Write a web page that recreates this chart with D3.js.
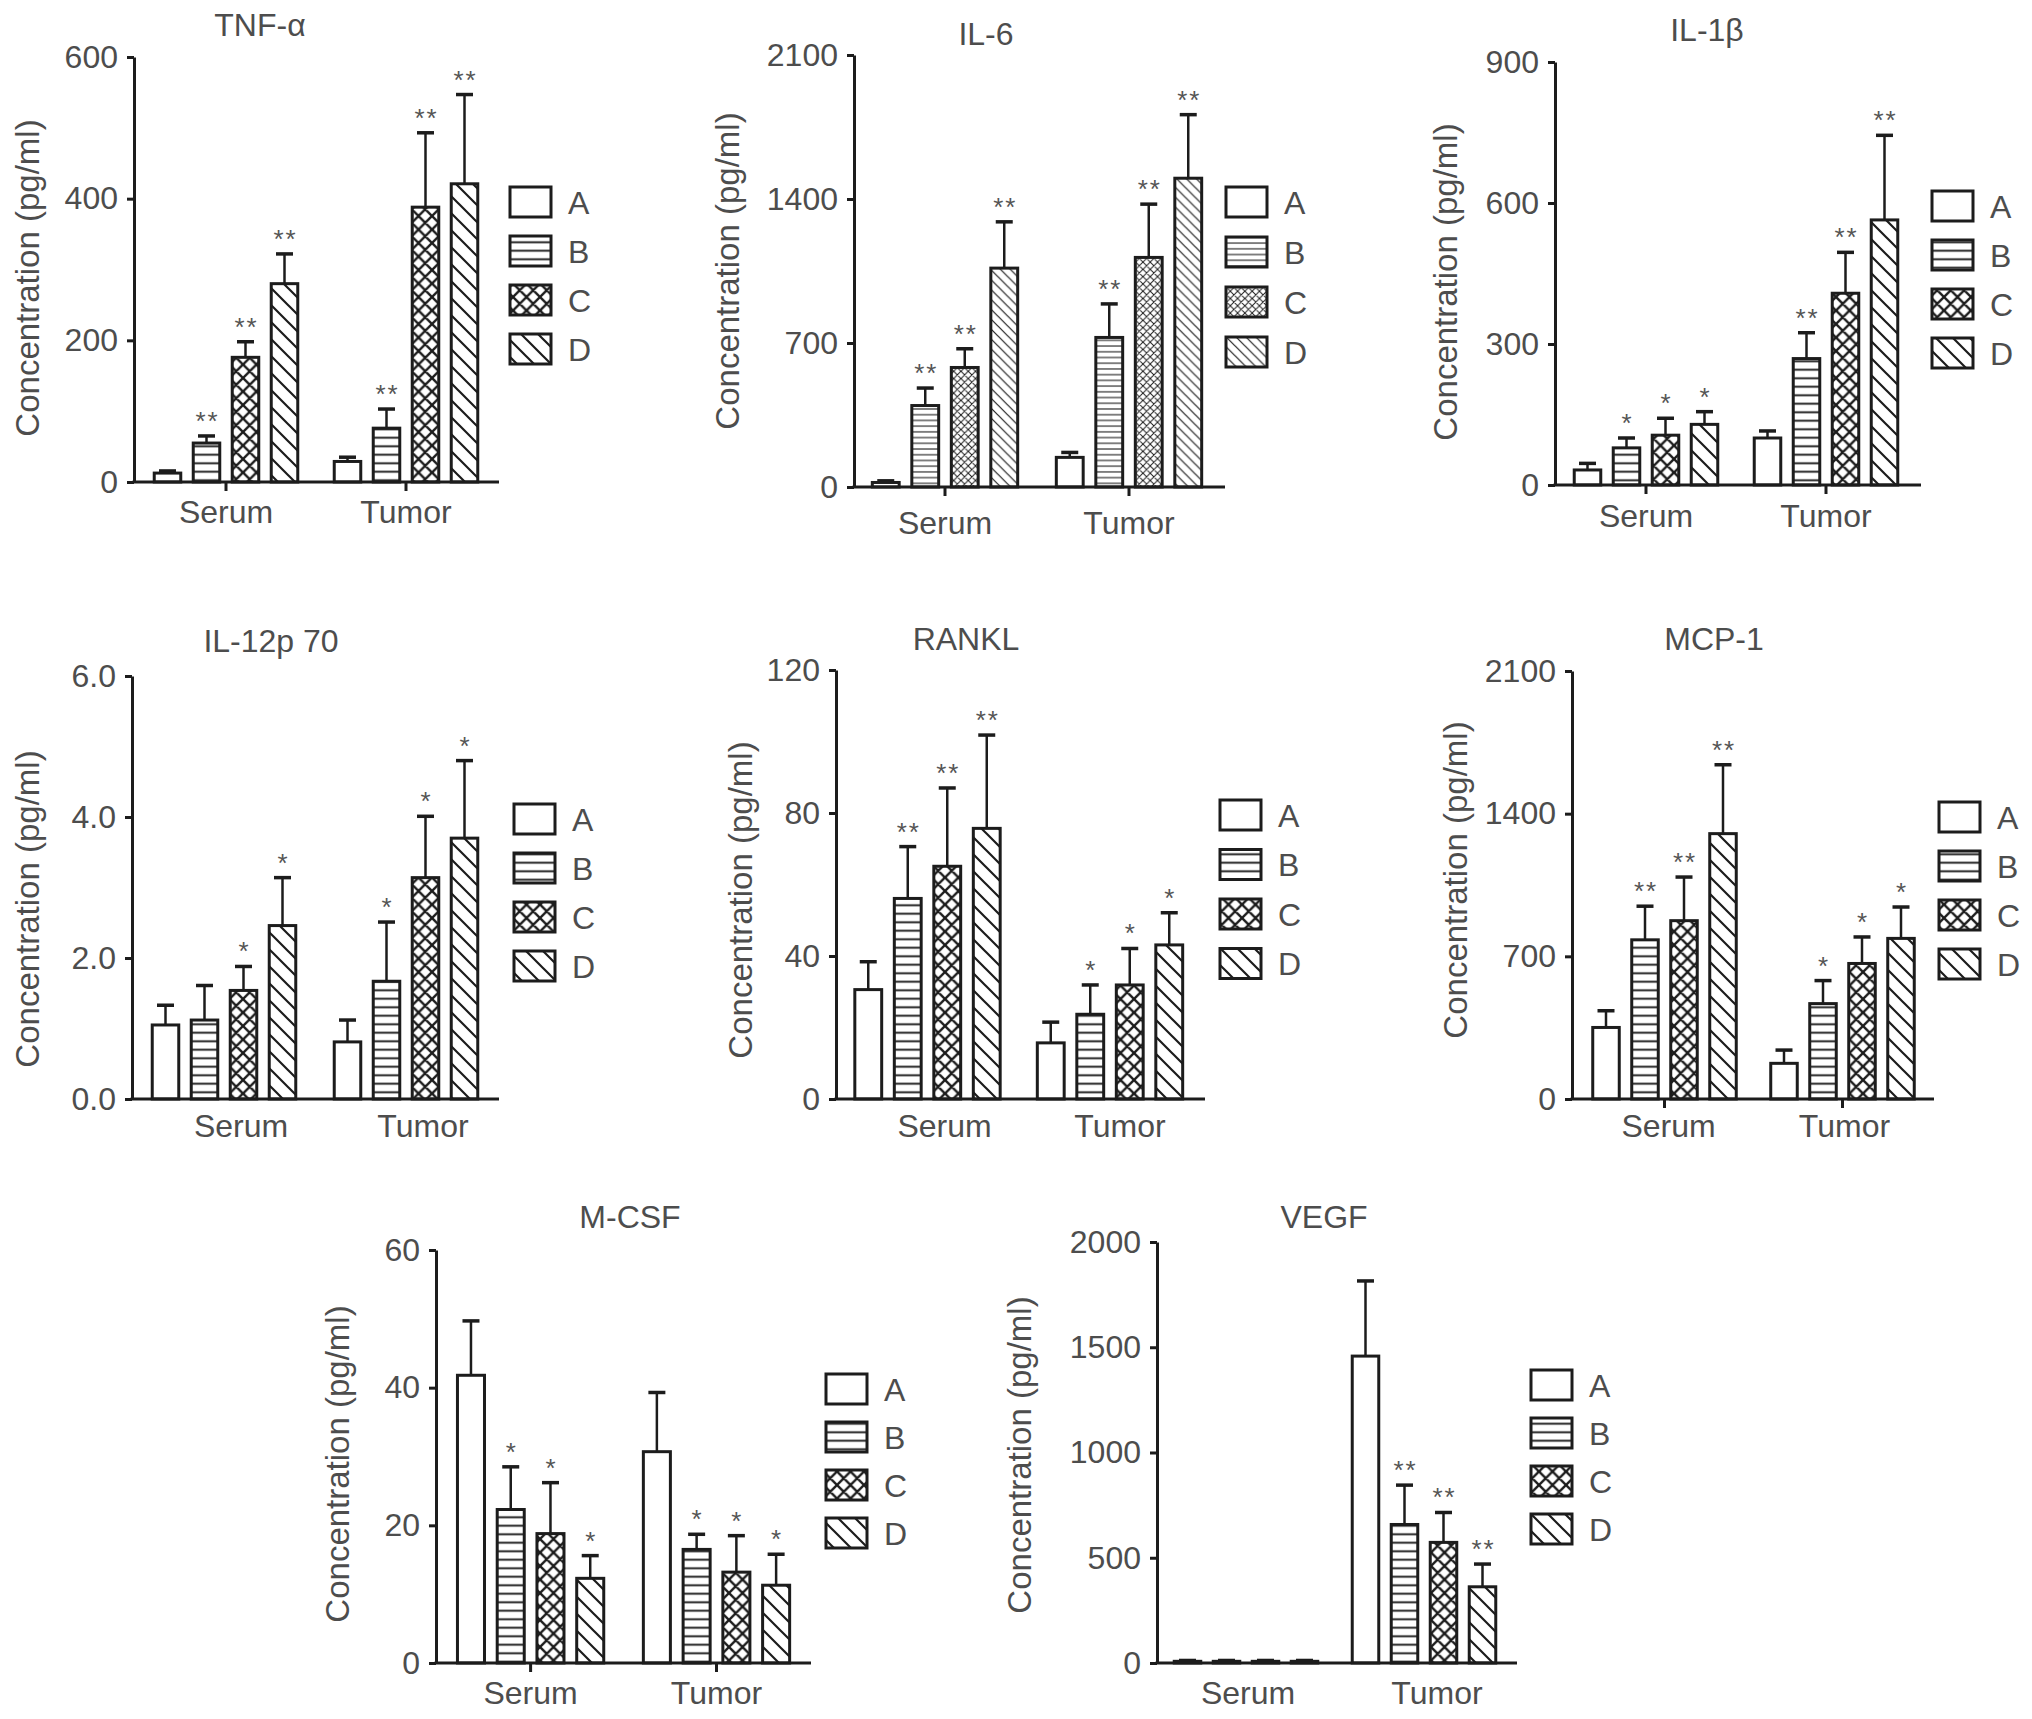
<!DOCTYPE html>
<html>
<head>
<meta charset="utf-8">
<script src="https://cdn.jsdelivr.net/npm/d3@7"></script>
<style>
body { margin: 0; background: #fff; }
text { font-family: "Liberation Sans", Arial, sans-serif; fill: #4d4d4d; }
</style>
</head>
<body>
<div id="chart"></div>
<script>
var groups = ["Serum", "Tumor"];
var series = ["A", "B", "C", "D"];
var titles = ["TNF-\u03b1", "IL-6", "IL-1\u03b2", "IL-12p 70", "RANKL", "MCP-1", "M-CSF", "VEGF"];
var yTickValues = [[0, 200, 400, 600], [0, 700, 1400, 2100], [0, 300, 600, 900], [0, 2, 4, 6],
                   [0, 40, 80, 120], [0, 700, 1400, 2100], [0, 20, 40, 60], [0, 500, 1000, 1500, 2000]];
var yFormats = ["d", "d", "d", ".1f", "d", "d", "d", "d"];

// mean values, [serum, tumor]
var tnfMean   = [[12.6, 55, 176, 280], [29, 76, 388, 421]];
var il6Mean   = [[22, 396, 581, 1064], [144, 727, 1116, 1501]];
var il1bMean  = [[32, 79, 106, 129], [100, 269, 408, 564]];
var il12Mean  = [[1.05, 1.12, 1.54, 2.46], [0.81, 1.67, 3.14, 3.70]];
var ranklMean = [[30.6, 56.1, 65.1, 75.7], [15.7, 23.7, 31.9, 43.1]];
var mcp1Mean  = [[351, 781, 875, 1302], [175, 468, 665, 788]];
var mcsfMean  = [[41.8, 22.3, 18.8, 12.3], [30.7, 16.5, 13.2, 11.3]];
var vegfMean  = [[8, 8, 8, 8], [1458, 658, 573, 362]];

// error bar lengths (upper only)
var tnfErr   = [[3, 10, 22, 42], [6, 27, 105, 126]];
var il6Err   = [[8, 85, 91, 225], [24, 163, 259, 309]];
var il1bErr  = [[14, 21, 36, 27], [15, 55, 87, 180]];
var il12Err  = [[0.28, 0.49, 0.34, 0.68], [0.31, 0.84, 0.87, 1.10]];
var ranklErr = [[7.8, 14.5, 21.9, 26.1], [5.8, 8.2, 10.2, 9.0]];
var mcp1Err  = [[82, 165, 214, 338], [65, 113, 130, 154]];
var mcsfErr  = [[7.9, 6.2, 7.4, 3.3], [8.6, 2.2, 5.3, 4.5]];
var vegfErr  = [[4, 4, 4, 4], [357, 187, 142, 108]];

// significance marks
var tnfStars   = [["", "**", "**", "**"], ["", "**", "**", "**"]];
var il6Stars   = [["", "**", "**", "**"], ["", "**", "**", "**"]];
var il1bStars  = [["", "*", "*", "*"], ["", "**", "**", "**"]];
var il12Stars  = [["", "", "*", "*"], ["", "*", "*", "*"]];
var ranklStars = [["", "**", "**", "**"], ["", "*", "*", "*"]];
var mcp1Stars  = [["", "**", "**", "**"], ["", "*", "*", "*"]];
var mcsfStars  = [["", "*", "*", "*"], ["", "*", "*", "*"]];
var vegfStars  = [["", "", "", ""], ["", "**", "**", "**"]];

var means = [tnfMean, il6Mean, il1bMean, il12Mean, ranklMean, mcp1Mean, mcsfMean, vegfMean];
var errs = [tnfErr, il6Err, il1bErr, il12Err, ranklErr, mcp1Err, mcsfErr, vegfErr];
var stars = [tnfStars, il6Stars, il1bStars, il12Stars, ranklStars, mcp1Stars, mcsfStars, vegfStars];

// panel placement
var layout = [
  {x0: 134, x1: 499, yTop: 57, y0: 482, tx: 260, ty: 36, lx: 28, ly: 278, gx: 510, gy: 202, gs: 49, cy: 523, off: [92, 272], shift: [0, 0], ticks: true, f: 1, gw: 156},
  {x0: 854, x1: 1225, yTop: 55, y0: 487, tx: 986, ty: 45, lx: 728, ly: 271, gx: 1226, gy: 202, gs: 50, cy: 534, off: [91, 275], shift: [0, 0], ticks: true, f: 0.52, gw: 158},
  {x0: 1555, x1: 1921, yTop: 62, y0: 485, tx: 1707, ty: 41, lx: 1446, ly: 282, gx: 1932, gy: 206, gs: 49, cy: 527, off: [91, 271], shift: [0, 0], ticks: true, f: 1, gw: 156},
  {x0: 132, x1: 499, yTop: 676, y0: 1099, tx: 271, ty: 652, lx: 28, ly: 909, gx: 514, gy: 819, gs: 49, cy: 1137, off: [92, 274], shift: [17, 17], ticks: false, f: 1, gw: 156},
  {x0: 836, x1: 1205, yTop: 670, y0: 1099, tx: 966, ty: 650, lx: 741, ly: 900, gx: 1220, gy: 815, gs: 49.5, cy: 1137, off: [91.5, 274], shift: [17, 10], ticks: false, f: 1, gw: 158},
  {x0: 1572, x1: 1934, yTop: 671, y0: 1099, tx: 1714, ty: 650, lx: 1456, ly: 880, gx: 1939, gy: 817, gs: 49, cy: 1137, off: [92.5, 270.5], shift: [4, 2], ticks: true, f: 1, gw: 156},
  {x0: 436, x1: 811, yTop: 1250, y0: 1663, tx: 630, ty: 1228, lx: 338, ly: 1464, gx: 826, gy: 1389, gs: 48, cy: 1704, off: [94.6, 280.5], shift: [0, 0], ticks: true, f: 1, gw: 159},
  {x0: 1157, x1: 1517, yTop: 1242, y0: 1663, tx: 1324, ty: 1228, lx: 1020, ly: 1455, gx: 1531, gy: 1385, gs: 48, cy: 1704, off: [89, 267], shift: [2, 13], ticks: false, f: 1, gw: 156}
];

var ink = "#1c1c1c";

var svg = d3.select("#chart")
    .append("svg")
    .attr("width", 2032)
    .attr("height", 1719);

var defs = svg.append("defs");

// hatch patterns for each panel (IL-6 uses a finer, thinner one)
function makePatterns(i, f) {
    var fine = f < 1;
    var swB = fine ? 1.1 : 1.9;
    var swC = fine ? 1.0 : 2.4;
    var swD = fine ? 1.2 : 2.2;
    var hb = (fine ? 11 : 8.5) * f;
    defs.append("pattern").attr("id", "pB" + i)
        .attr("patternUnits", "userSpaceOnUse")
        .attr("width", 10).attr("height", hb)
        .append("path").attr("d", "M0," + (hb / 2) + "H10")
        .attr("stroke", ink).attr("stroke-width", swB);
    var t = (fine ? 14 : 13.5) * f;
    defs.append("pattern").attr("id", "pC" + i)
        .attr("patternUnits", "userSpaceOnUse")
        .attr("width", t).attr("height", t)
        .append("path").attr("d", "M0,0L" + t + "," + t + "M" + t + ",0L0," + t +
            "M-1,1L1,-1M" + (t - 1) + "," + (t + 1) + "L" + (t + 1) + "," + (t - 1) +
            "M-1," + (t - 1) + "L1," + (t + 1) + "M" + (t - 1) + ",-1L" + (t + 1) + ",1")
        .attr("stroke", ink).attr("stroke-width", swC);
    var d = (fine ? 19 : 17) * f;
    defs.append("pattern").attr("id", "pD" + i)
        .attr("patternUnits", "userSpaceOnUse")
        .attr("width", d).attr("height", d)
        .append("path").attr("d", "M0,0L" + d + "," + d + "M-2," + (d - 2) + "L2," + (d + 2) +
            "M" + (d - 2) + ",-2L" + (d + 2) + ",2")
        .attr("stroke", ink).attr("stroke-width", swD);
}

function fillFor(s, i) {
    if (s === "A") return "#fff";
    return "url(#p" + s + i + ")";
}

layout.forEach(function(L, i) {
    makePatterns(i, L.f);

    var g = svg.append("g");
    var y = d3.scaleLinear()
        .domain([0, d3.max(yTickValues[i])])
        .range([L.y0, L.yTop]);
    var xg = d3.scalePoint()
        .domain(groups)
        .range([L.x0 + L.off[0], L.x0 + L.off[1]]);
    var xs = d3.scaleBand()
        .domain(series)
        .range([-L.gw / 2, L.gw / 2])
        .paddingInner(0.32)
        .paddingOuter(0.16);
    var bw = xs.bandwidth();

    var rows = [];
    groups.forEach(function(grp, gi) {
        series.forEach(function(s, si) {
            rows.push({g: grp, s: s, v: means[i][gi][si], e: errs[i][gi][si], star: stars[i][gi][si]});
        });
    });

    // error bars
    rows.forEach(function(d) {
        var cx = xg(d.g) + xs(d.s) + bw / 2;
        g.append("line")
            .attr("x1", cx).attr("x2", cx)
            .attr("y1", y(d.v)).attr("y2", y(d.v + d.e))
            .attr("stroke", ink).attr("stroke-width", 2.5);
        g.append("line")
            .attr("x1", cx - 8.5).attr("x2", cx + 8.5)
            .attr("y1", y(d.v + d.e)).attr("y2", y(d.v + d.e))
            .attr("stroke", ink).attr("stroke-width", 3.5);
        if (d.star) {
            g.append("text")
                .attr("x", cx + 1)
                .attr("y", y(d.v + d.e) - 6)
                .attr("text-anchor", "middle")
                .style("font-size", "26px")
                .style("letter-spacing", "2px")
                .style("fill", "#555")
                .text(d.star);
        }
    });

    // bars
    g.selectAll("rect.bar")
        .data(rows)
        .enter()
        .append("rect")
        .attr("class", "bar")
        .attr("x", function(d) { return xg(d.g) + xs(d.s); })
        .attr("y", function(d) { return y(d.v); })
        .attr("width", bw)
        .attr("height", function(d) { return L.y0 - y(d.v); })
        .attr("fill", function(d) { return fillFor(d.s, i); })
        .attr("stroke", ink)
        .attr("stroke-width", 3);

    // y axis
    var yAxis = g.append("g")
        .attr("transform", "translate(" + L.x0 + ",0)")
        .call(d3.axisLeft(y)
            .tickValues(yTickValues[i])
            .tickFormat(d3.format(yFormats[i]))
            .tickSize(7)
            .tickPadding(9)
            .tickSizeOuter(0));
    yAxis.select(".domain").attr("stroke", ink).attr("stroke-width", 3);
    yAxis.selectAll(".tick line").attr("stroke", ink).attr("stroke-width", 3);
    yAxis.selectAll(".tick text")
        .style("font-size", "32px")
        .style("font-family", "'Liberation Sans', Arial, sans-serif")
        .attr("fill", "#4d4d4d");

    // x axis
    g.append("line")
        .attr("x1", L.x0 - 1.5).attr("x2", L.x1)
        .attr("y1", L.y0).attr("y2", L.y0)
        .attr("stroke", ink).attr("stroke-width", 3);
    groups.forEach(function(grp, gi) {
        if (L.ticks) {
            g.append("line")
                .attr("x1", xg(grp)).attr("x2", xg(grp))
                .attr("y1", L.y0).attr("y2", L.y0 + 9)
                .attr("stroke", ink).attr("stroke-width", 3);
        }
        g.append("text")
            .attr("x", xg(grp) + L.shift[gi])
            .attr("y", L.cy)
            .attr("text-anchor", "middle")
            .style("font-size", "32px")
            .text(grp);
    });

    // title
    g.append("text")
        .attr("x", L.tx)
        .attr("y", L.ty)
        .attr("text-anchor", "middle")
        .style("font-size", "32px")
        .text(titles[i]);

    // y label
    g.append("text")
        .attr("transform", "translate(" + L.lx + "," + L.ly + ") rotate(-90)")
        .attr("text-anchor", "middle")
        .attr("dy", "0.32em")
        .style("font-size", "33px")
        .text("Concentration (pg/ml)");

    // legend
    series.forEach(function(s, j) {
        var cyL = L.gy + j * L.gs;
        g.append("rect")
            .attr("x", L.gx)
            .attr("y", cyL - 15)
            .attr("width", 41)
            .attr("height", 30)
            .attr("fill", fillFor(s, i))
            .attr("stroke", ink)
            .attr("stroke-width", 3);
        g.append("text")
            .attr("x", L.gx + 58)
            .attr("y", cyL + 11.5)
            .style("font-size", "32px")
            .text(s);
    });
});
</script>
</body>
</html>
